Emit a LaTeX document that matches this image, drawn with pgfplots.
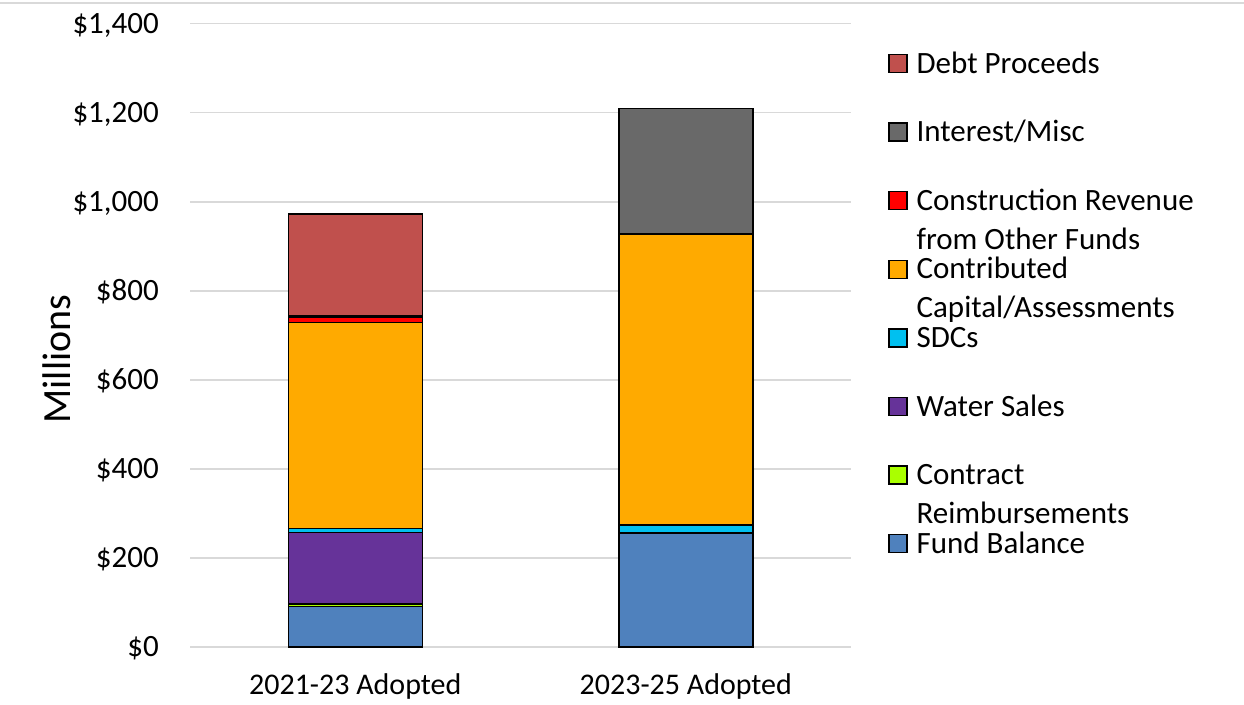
\documentclass[border=0pt]{standalone}
\usepackage{fontspec}
\setmainfont{Carlito}
\usepackage{pgfplots}
\pgfplotsset{compat=1.18}
\definecolor{cdebt}{HTML}{C0504D}
\definecolor{cint}{HTML}{696969}
\definecolor{ccons}{HTML}{FF0000}
\definecolor{ccontr}{HTML}{FFAA00}
\definecolor{csdc}{HTML}{00C0F0}
\definecolor{cwater}{HTML}{663399}
\definecolor{creimb}{HTML}{AAFF00}
\definecolor{cfund}{HTML}{4F81BD}
\definecolor{gridgray}{HTML}{D9D9D9}
\pgfplotsset{
  mybar/.style={fill=#1, draw=black, line width=1.5pt,
    legend image code/.code={\draw[fill=#1,draw=black,line width=1.4pt] (0pt,15pt) rectangle (18pt,33pt);}},
}
\begin{document}
\begin{tikzpicture}
\path[use as bounding box] (0,0) rectangle (1244pt,704pt);
\draw[color=gridgray, line width=1.5pt] (0,701pt) -- (1244pt,701pt);
\begin{axis}[
  at={(190pt,57pt)}, anchor=south west,
  scale only axis, width=661pt, height=623.3pt,
  ybar stacked, bar width=134pt,
  xmin=-0.5, xmax=1.5, ymin=0, ymax=1400, enlargelimits=false,
  xtick={0,1}, xticklabels={2021-23 Adopted,2023-25 Adopted},
  ytick={0,200,400,600,800,1000,1200,1400},
  yticklabels={\$0,\$200,\$400,\$600,\$800,{\$1,000},{\$1,200},{\$1,400}},
  ymajorgrids, grid style={gridgray, line width=1.5pt},
  axis line style={draw=none}, major tick length=0pt,
  xticklabel style={font=\fontsize{30}{36}\selectfont, inner sep=0pt, anchor=north, text height=22pt, yshift=-25pt},
  yticklabel style={font=\fontsize{31}{37}\selectfont, inner sep=0pt, anchor=east, text height=19.6pt, text depth=0pt, xshift=-31pt},
  ylabel={Millions},
  ylabel style={at={(axis description cs:-0.201,0.462)}, anchor=center, rotate=0, font=\fontsize{40}{48}\selectfont},
  reverse legend,
  legend cell align=left,
  legend style={font=\fontsize{31}{39}\selectfont, draw=none, fill=none, inner sep=0pt,
    at={(1.056,0.953)}, anchor=north west, column sep=9pt, row sep=0pt,
    nodes={inner sep=0pt, text height=20pt, text depth=48.6pt}},
]
\addplot+[mybar=cfund] coordinates {(0,91) (1,256)};
\addlegendentry{Fund Balance}
\addplot+[mybar=creimb] coordinates {(0,6) (1,0)};
\addlegendentry{\vtop{\hbox{Contract}\hbox{Reimbursements}}}
\addplot+[mybar=cwater] coordinates {(0,160) (1,0)};
\addlegendentry{Water Sales}
\addplot+[mybar=csdc] coordinates {(0,9) (1,18)};
\addlegendentry{SDCs}
\addplot+[mybar=ccontr] coordinates {(0,463) (1,654)};
\addlegendentry{\vtop{\hbox{Contributed}\hbox{Capital/Assessments}}}
\addplot+[mybar=ccons] coordinates {(0,11) (1,0)};
\addlegendentry{\vtop{\hbox{Construction Revenue}\hbox{from Other Funds}}}
\addplot+[mybar=cint] coordinates {(0,3) (1,282)};
\addlegendentry{Interest/Misc}
\addplot+[mybar=cdebt] coordinates {(0,230) (1,0)};
\addlegendentry{Debt Proceeds}
\end{axis}
\end{tikzpicture}
\end{document}
